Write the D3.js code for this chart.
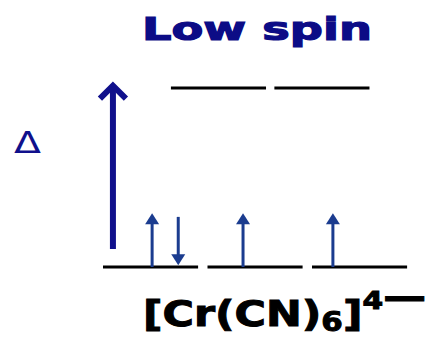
<!DOCTYPE html>
<meta charset="utf-8">
<title>Low spin [Cr(CN)6]4-</title>
<style>
  body { margin: 0; background: #fff; }
  .orbital { stroke: #000; stroke-width: 3px; stroke-linecap: butt; }
  .electron { stroke: #1b3c8f; stroke-width: 3px; }
  .electron-head { fill: #1b3c8f; }
</style>
<body>
<svg width="438" height="337"></svg>
<script src="https://d3js.org/d3.v7.min.js"></script>
<script>

  // energy levels (in units of the splitting, Δ)
  var t2gEnergy = 0;
  var egEnergy = 1;

  // orbital start positions along the diagram (slot units)
  var t2gOrbitals = [0, 1, 2];
  var egOrbitals = [0.65, 1.64];
  var orbitalWidth = 0.91;

  // electrons: where they sit and which way they point
  var electronX = [0.47, 0.72, 1.34, 2.20];
  var electronSpin = ["up", "down", "up", "up"];
  var electronLength = 0.3;

  // the Δ arrow
  var deltaX = 0.095;
  var deltaRange = [0.1, 1.03];

  var title = "Low spin";
  var deltaLabel = "Δ";

  const svg = d3.select('svg');

  var x = d3.scaleLinear().domain([0, 3]).range([103, 416.5]);
  var y = d3.scaleLinear().domain([0, 1]).range([267, 88]);

  // stretch a text horizontally so it spans [x0, x1]
  function fitWidth(sel, x0, x1, base) {
    var w = sel.node().getBBox().width;
    sel.attr('transform', `translate(${x0},${base}) scale(${(x1 - x0) / w},1)`);
  }

  // title
  var t = svg.append('text')
    .attr('font-family', 'DejaVu Sans')
    .attr('font-weight', 'bold')
    .attr('font-size', 32)
    .attr('fill', '#0c0c86')
    .attr('stroke', '#0c0c86')
    .attr('stroke-width', 1.2)
    .text(title);
  fitWidth(t, 142, 372, 40);

  // orbitals
  svg.selectAll('.t2g')
    .data(t2gOrbitals)
    .enter().append('line')
    .attr('class', 'orbital t2g')
    .attr('x1', d => x(d))
    .attr('x2', d => x(d + orbitalWidth))
    .attr('y1', y(t2gEnergy))
    .attr('y2', y(t2gEnergy));

  svg.selectAll('.eg')
    .data(egOrbitals)
    .enter().append('line')
    .attr('class', 'orbital eg')
    .attr('x1', d => x(d))
    .attr('x2', d => x(d + orbitalWidth))
    .attr('y1', y(egEnergy))
    .attr('y2', y(egEnergy));

  // big splitting arrow
  var dx = x(deltaX);
  svg.append('line')
    .attr('x1', dx).attr('x2', dx)
    .attr('y1', y(deltaRange[0]))
    .attr('y2', y(deltaRange[1]) + 4)
    .attr('stroke', '#10108c')
    .attr('stroke-width', 6);
  svg.append('polyline')
    .attr('points', [[dx - 13, y(deltaRange[1]) + 16], [dx, y(deltaRange[1]) + 3], [dx + 13, y(deltaRange[1]) + 16]].join(' '))
    .attr('fill', 'none')
    .attr('stroke', '#10108c')
    .attr('stroke-width', 6)
    .attr('stroke-linejoin', 'miter');

  var dl = svg.append('text')
    .attr('font-family', 'DejaVu Sans')
    .attr('font-size', 31)
    .attr('fill', '#10108c')
    .text(deltaLabel);
  fitWidth(dl, 14, 41, 153);

  // electrons
  var electrons = electronX.map((d, i) => ({ x: d, spin: electronSpin[i] }));
  var e = svg.selectAll('.el')
    .data(electrons)
    .enter().append('g')
    .attr('class', 'el')
    .attr('transform', d => `translate(${x(d.x)},0)`);

  e.append('line')
    .attr('class', 'electron')
    .attr('x1', 0).attr('x2', 0)
    .attr('y1', d => d.spin == "up" ? y(t2gEnergy) : y(electronLength - 0.02))
    .attr('y2', d => d.spin == "up" ? y(electronLength) + 8 : y(0.01) - 8);

  e.append('path')
    .attr('class', 'electron-head')
    .attr('d', function (d) {
      if (d.spin == "up") {
        var tip = y(electronLength);
        return `M0,${tip}L7,${tip + 11}L-7,${tip + 11}Z`;
      }
      var tip = y(0.01);
      return `M0,${tip}L7,${tip - 11}L-7,${tip - 11}Z`;
    });

  // formula label
  var f = svg.append('text')
    .attr('font-family', 'DejaVu Sans')
    .attr('font-weight', 'bold')
    .attr('font-size', 36)
    .attr('fill', '#000')
    .attr('stroke', '#000')
    .attr('stroke-width', 1);
  f.append('tspan').text('[Cr(CN)');
  f.append('tspan').attr('font-size', 26).attr('dy', 5).text('6');
  f.append('tspan').attr('dy', -5).text(']');
  f.append('tspan').attr('font-size', 25).attr('dy', -17).text('4');
  f.append('tspan').attr('font-size', 36).text('—');
  fitWidth(f, 143, 426, 326);

</script>
</body>
